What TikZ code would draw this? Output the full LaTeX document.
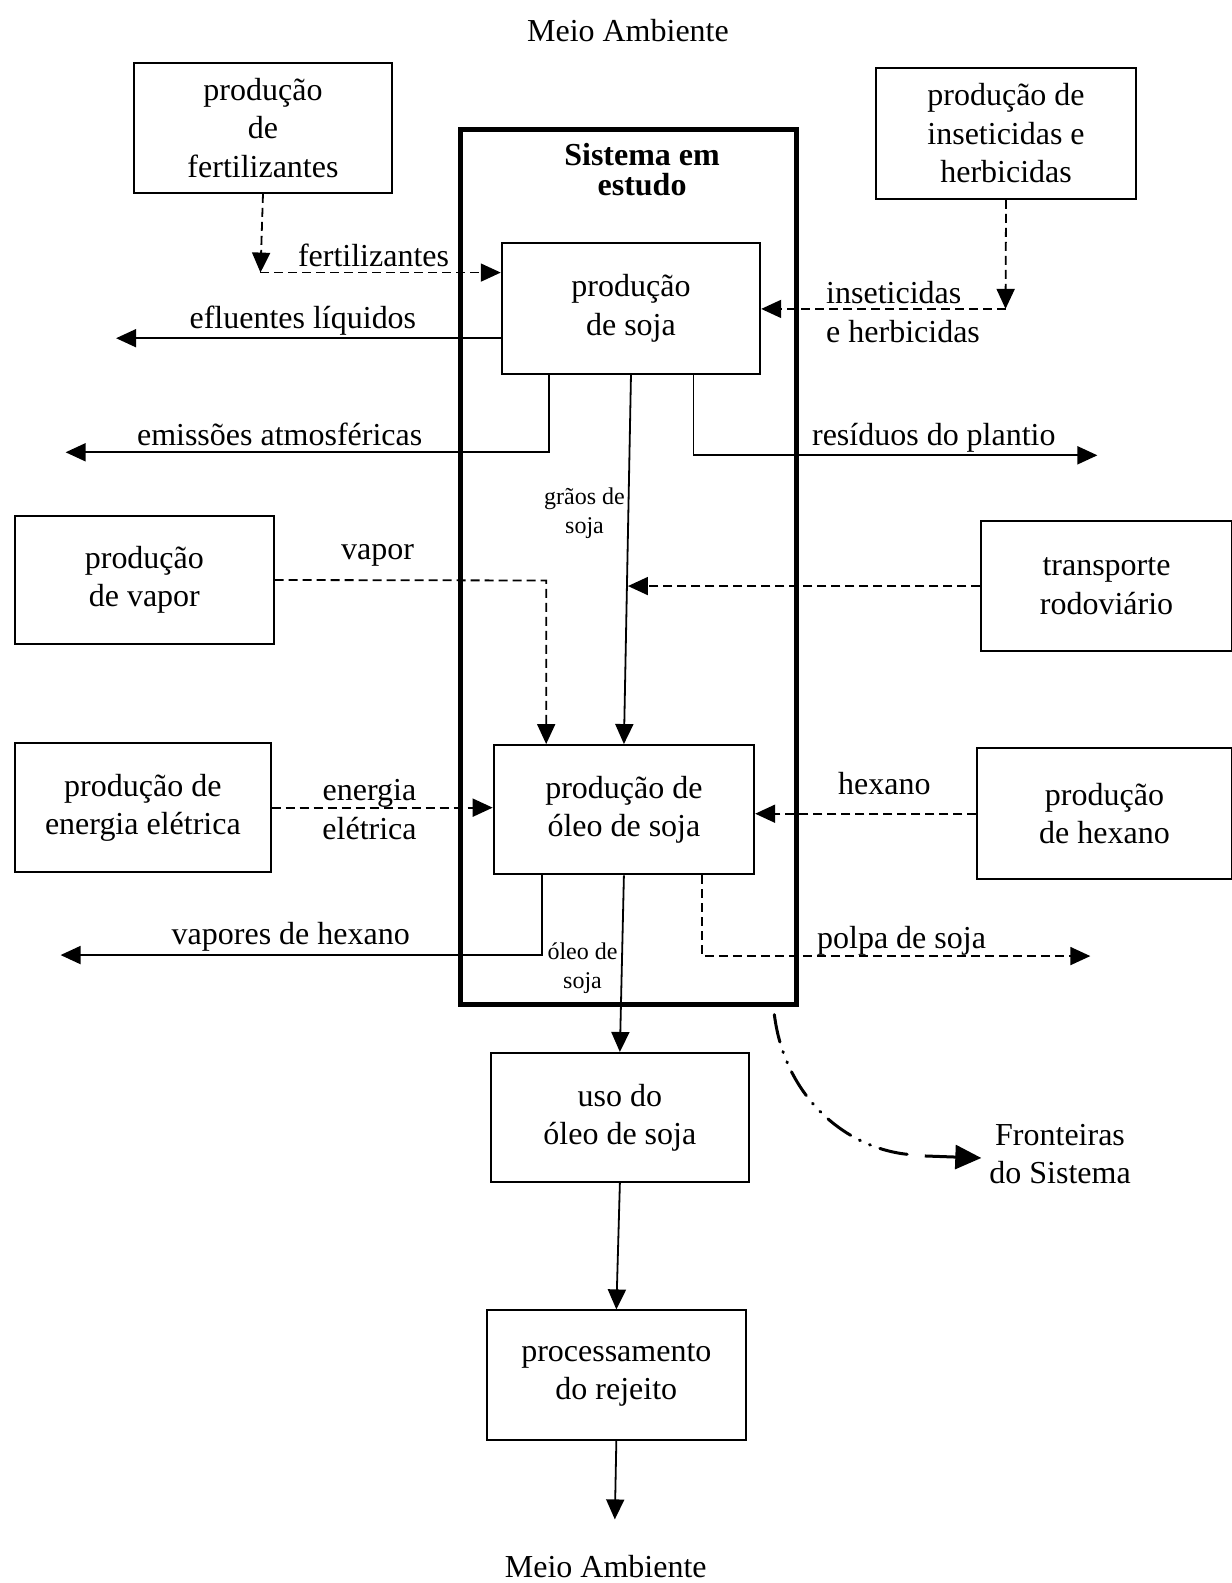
\documentclass[tikz,border=0pt]{standalone}
\usepackage{fontspec}
\setmainfont{Liberation Serif}
\usetikzlibrary{arrows.meta}

\begin{document}
\begin{tikzpicture}[x=0.5049pt,y=-0.5049pt,
  font=\fontsize{16}{19.2}\selectfont,
  box/.style={draw, line width=1pt, inner sep=0pt, align=center},
  wh/.style 2 args={minimum width={#1*0.5049pt}, minimum height={#2*0.5049pt}},
  flow/.style={line width=0.9pt, -{Triangle[length=10pt,width=9pt]}},
  dflow/.style={flow, dash pattern=on 4.5pt off 2.5pt},
  lbl/.style={inner sep=0pt, align=center},
  small/.style={lbl, font=\fontsize{12}{14.5}\selectfont},
  boundary/.style={line width=1.5pt, line cap=round,
    dash pattern=on 14pt off 5pt on 0.5pt off 5pt on 0.5pt off 5pt},
]
\useasboundingbox (0,0) rectangle (1220,1568);

% system boundary
\node[box, line width=2.4pt, wh={333}{867}] (sys) at (622.5,561.5) {};
\node[lbl, font=\bfseries\fontsize{16}{15}\selectfont] (systitle) at (636,168) {Sistema em\\estudo};

% environment labels
\node[lbl] (envtop) at (622,30) {Meio Ambiente};
\node[lbl] (envbot) at (600,1552) {Meio Ambiente};

% processes
\node[box, wh={255}{129}] (fert) at (260.5,126.5) {produção\\de\\fertilizantes};
\node[box, wh={257}{130}] (inset) at (996.5,132) {produção de\\inseticidas e\\herbicidas};
\node[box, wh={256}{129}] (soja) at (625,305.5) {produção\\de soja};
\node[box, wh={256}{127}] (vapor) at (143,574.5) {produção\\de vapor};
\node[box, wh={248}{129}] (transp) at (1096,580.5) {transporte\\rodoviário};
\node[box, wh={253}{128}] (energia) at (141.5,800) {produção de\\energia elétrica};
\node[box, wh={258}{128}] (oleo) at (618,802) {produção de\\óleo de soja};
\node[box, wh={252}{130}] (hexano) at (1094,806) {produção\\de hexano};
\node[box, wh={256}{128}] (uso) at (614,1107) {uso do\\óleo de soja};
\node[box, wh={257}{128}] (proc) at (610.5,1362) {processamento\\do rejeito};

% routing points and free ends
\coordinate (fertc) at (258,270);
\coordinate (insc) at (996,306);
\coordinate (efl) at (115,335);
\coordinate (emi1) at (544,448);
\coordinate (emiend) at (65,448);
\coordinate (res1) at (687,451);
\coordinate (resend) at (1087,451);
\coordinate (vap1) at (541,575);
\coordinate (tr1) at (622,577);
\coordinate (vh1) at (537,946);
\coordinate (vhend) at (60,946);
\coordinate (pp1) at (695,947);
\coordinate (ppend) at (1080,947);
\coordinate (envend) at (609,1505);

% inputs to soybean production
\draw[dflow] (fert.south) -- (fertc);
\draw[dflow] (fertc) -- (fertc -| soja.west);
\node[lbl] (lfert) at (370,253) {fertilizantes};
\draw[dflow] (inset.south) -- (insc);
\draw[dflow] (insc) -- (insc -| soja.east);
\node[lbl, align=left, anchor=west] (linset) at (818,309) {inseticidas\\e herbicidas};

% outputs of soybean production
\draw[flow] (efl -| soja.west) -- (efl);
\node[lbl] (lefl) at (300,318) {efluentes líquidos};
\draw[flow] (soja.south -| emi1) -- (emi1) -- (emiend);
\node[lbl] (lemi) at (277,430) {emissões atmosféricas};
\draw[flow] (soja.south -| res1) -- (res1) -- (resend);
\node[lbl] (lres) at (925,434) {resíduos do plantio};

% soybeans to oil production
\draw[flow] (soja.south) -- (oleo.north);
\node[small] (lgraos) at (579,508) {grãos de\\soja};
\draw[dflow] (transp.west) -- (transp.west -| tr1);

% inputs to oil production
\draw[dflow] (vapor.east) -- (vap1) -- (vap1 |- oleo.north);
\node[lbl] (lvapor) at (374,550) {vapor};
\draw[dflow] (energia.east) -- (energia.east -| oleo.west);
\node[lbl] (lenergia) at (366,802) {energia\\elétrica};
\draw[dflow] (hexano.west) -- (hexano.west -| oleo.east);
\node[lbl] (lhexano) at (876,776) {hexano};

% outputs of oil production
\draw[flow] (oleo.south -| vh1) -- (vh1) -- (vhend);
\node[lbl] (lvh) at (288,928) {vapores de hexano};
\draw[dflow] (oleo.south -| pp1) -- (pp1) -- (ppend);
\node[lbl] (lpp) at (893,932) {polpa de soja};
\draw[flow] (oleo.south) -- (uso.north);
\node[small] (loleo) at (577,959) {óleo de\\soja};

% use and disposal
\draw[flow] (uso.south) -- (proc.north);
\draw[flow] (proc.south) -- (envend);

% system boundary callout
\node[lbl] (front) at (1050,1143) {Fronteiras\\do Sistema};
\coordinate (fb0) at (767,1005);
\coordinate (fb1) at (908,1144);
\coordinate (fb2) at (916,1145);
\coordinate (fb3) at (972,1147);
\draw[boundary] (fb0) .. controls (778,1092) and (845,1142) .. (fb1);
\draw[line width=1.5pt, -{Triangle[length=13pt,width=12pt]}] (fb2) -- (fb3);
\end{tikzpicture}
\end{document}
